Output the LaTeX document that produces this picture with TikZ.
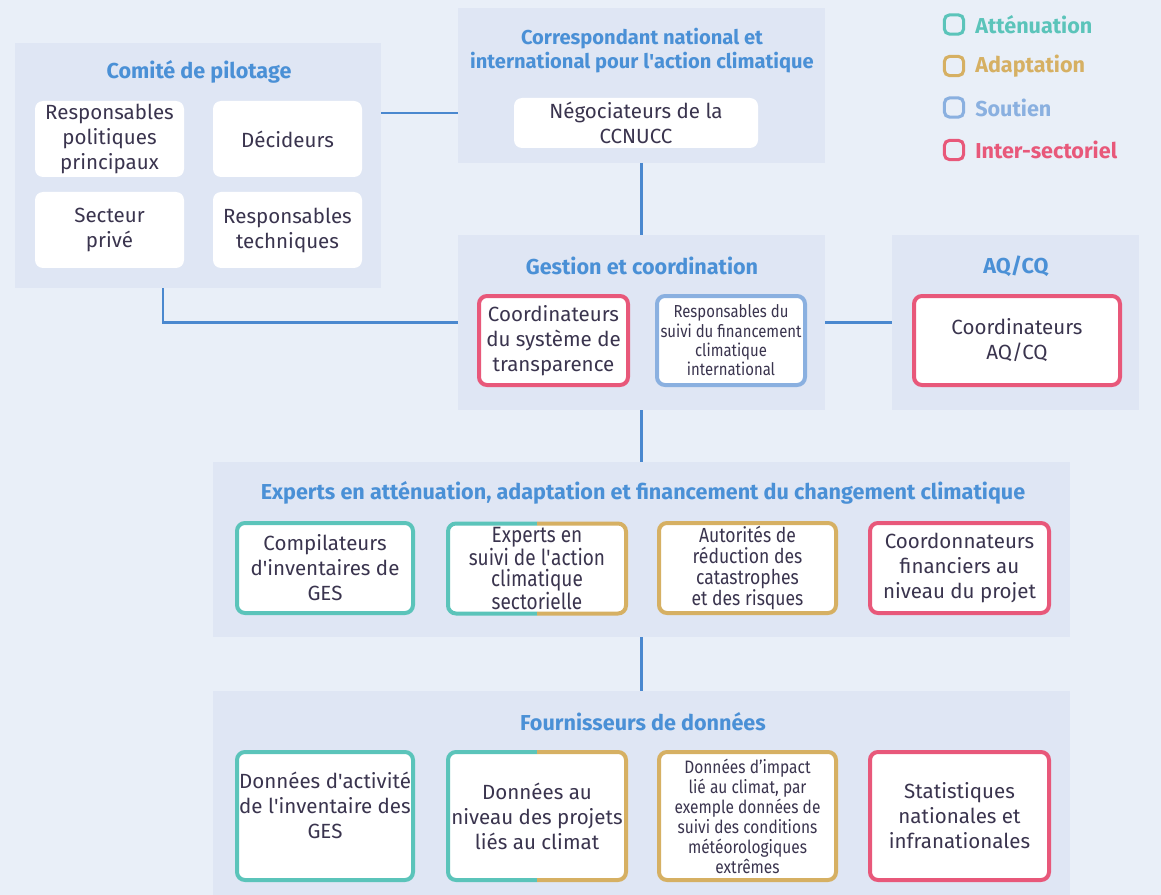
\documentclass[tikz,border=0pt]{standalone}
\usepackage{fontspec}
\setmainfont{Fira Sans}
\newfontfamily\cond{Fira Sans}[FakeStretch=0.86]
\usetikzlibrary{calc}
\definecolor{bg}{RGB}{233,239,248}
\definecolor{panel}{RGB}{223,230,244}
\definecolor{ttl}{RGB}{74,144,214}
\definecolor{conn}{RGB}{74,136,207}
\definecolor{teal}{RGB}{91,196,186}
\definecolor{gold}{RGB}{214,176,99}
\definecolor{sup}{RGB}{138,176,224}
\definecolor{red}{RGB}{232,88,122}
\definecolor{txt}{RGB}{58,52,78}
\newcommand\sq{\textquotesingle}
\tikzset{
  wh/.style 2 args={minimum width=#1*0.75pt, minimum height=#2*0.75pt},
  panelbox/.style={fill=panel, draw=none, inner sep=0pt, outer sep=0pt},
  ttlnode/.style={text=ttl, font=\bfseries\fontsize{16.2}{18}\selectfont, align=center, inner sep=0pt},
  wbox/.style={fill=white, draw=none, rounded corners=6pt, inner sep=0pt, outer sep=0pt, align=center, text=txt, font=\fontsize{15.4}{18.75}\selectfont},
  cbox/.style={wbox, draw=#1, line width=3pt},
  sbox/.style={wbox, font=\cond\fontsize{13}{14.5}\selectfont},
  connline/.style={draw=conn, line width=2.2pt},
  halfl/.style={draw=teal, line width=3pt, rounded corners=6pt},
  halfr/.style={draw=gold, line width=3pt, rounded corners=6pt},
  legsq/.style={draw=#1, line width=2.3pt, rounded corners=4pt, minimum width=14.5pt, minimum height=14.5pt, inner sep=0pt},
  legtxt/.style={text=#1, font=\bfseries\fontsize{16.2}{18}\selectfont, anchor=west, inner sep=0pt},
}
\begin{document}
\begin{tikzpicture}[x=0.75pt, y=-0.75pt]
\useasboundingbox[fill=bg] (0,0) rectangle (1161,895);

% panels
\node[panelbox, wh={366}{245}] (P1) at (198,165.5) {};
\node[panelbox, wh={367}{155}] (P2) at (641.5,85.5) {};
\node[panelbox, wh={367}{175}] (P3) at (641.5,322.5) {};
\node[panelbox, wh={247}{175}] (P4) at (1015.5,322.5) {};
\node[panelbox, wh={857}{175}] (P5) at (641.5,549.5) {};
\node[panelbox, wh={857}{204}] (P6) at (641.5,793) {};

% titles
\node[ttlnode] (T1) at (199,72) {Comité de pilotage};
\node[ttlnode, font=\bfseries\fontsize{15.1}{18}\selectfont] (T2) at (642,51) {Correspondant national et\\international pour l\sq action climatique};
\node[ttlnode] (T3) at (642,266) {Gestion et coordination};
\node[ttlnode] (T4) at (1016,266) {AQ/CQ};
\node[ttlnode] (T5) at (643,493) {Experts en atténuation, adaptation et financement du changement climatique};
\node[ttlnode] (T6) at (643,722) {Fournisseurs de données};

% connectors
\draw[connline] ($(P1.north east)+(0,70)$) coordinate (a1) -- (a1 -| P2.west);
\draw[connline] ($(P1.south)+(-35,0)$) |- (P3.west);
\draw[connline] (P2.south) -- (P3.north);
\draw[connline] (P3.east) -- (P4.west);
\draw[connline] (P3.south) -- (P5.north);
\draw[connline] (P5.south) -- (P6.north);

% comite boxes
\node[wbox, wh={149}{76}] (b11) at (109.5,139) {Responsables\\politiques\\principaux};
\node[wbox, wh={149}{76}] (b12) at (287.5,139) {Décideurs};
\node[wbox, wh={149}{76}] (b21) at (109.5,230) {Secteur\\privé};
\node[wbox, wh={149}{76}] (b22) at (287.5,230) {Responsables\\techniques};

% correspondant
\node[wbox, wh={244}{50}] (negoc) at (636,123) {Négociateurs de la\\CCNUCC};

% gestion
\node[cbox=red, wh={149}{89}] (coordT) at (553.5,340.5) {Coordinateurs\\du système de\\transparence};
\node[sbox, draw=sup, line width=3pt, wh={148}{89}] (respS) at (731,340.5) {Responsables du\\suivi du financement\\climatique\\international};
\node[cbox=red, wh={206}{89}] (aqc) at (1017,340.5) {Coordinateurs\\AQ/CQ};

% experts
\node[cbox=teal, wh={176}{90}] (e1) at (325,568) {Compilateurs\\d\sq inventaires de\\GES};
\node[wbox, wh={178}{90}, font=\cond\fontsize{16.6}{15.7}\selectfont] (e2) at (537,568.5) {Experts en\\suivi de l\sq action\\climatique\\sectorielle};
\draw[halfl] (e2.north) -- (e2.north west) -- (e2.south west) -- (e2.south);
\draw[halfr] (e2.north) -- (e2.north east) -- (e2.south east) -- (e2.south);
\node[sbox, draw=gold, line width=3pt, wh={177}{90}, font=\cond\fontsize{15.3}{15.75}\selectfont] (e3) at (747.5,568) {Autorités de\\réduction des\\catastrophes\\et des risques};
\node[cbox=red, wh={179}{90}] (e4) at (959.5,568) {Coordonnateurs\\financiers au\\niveau du projet};

% fournisseurs
\node[cbox=teal, wh={176}{128}] (d1) at (325,816) {};
\node[text=txt, align=center, inner sep=0pt, font=\fontsize{15.4}{18.75}\selectfont] (d1t) at (325,805) {Données d\sq activité\\de l\sq inventaire des\\GES};
\node[wbox, wh={178}{128}] (d2) at (537,816) {Données au\\niveau des projets\\liés au climat};
\draw[halfl] (d2.north) -- (d2.north west) -- (d2.south west) -- (d2.south);
\draw[halfr] (d2.north) -- (d2.north east) -- (d2.south east) -- (d2.south);
\node[sbox, draw=gold, line width=3pt, wh={177}{128}, font=\cond\fontsize{13.5}{15}\selectfont] (d3) at (747.5,816) {Données d’impact\\lié au climat, par\\exemple données de\\suivi des conditions\\météorologiques\\extrêmes};
\node[cbox=red, wh={179}{128}] (d4) at (959.5,816) {Statistiques\\nationales et\\infranationales};

% legend
\node[legsq=teal] (L1) at (954,24.5) {};
\node[legsq=gold] (L2) at (954,66) {};
\node[legsq=sup] (L3) at (954,107.5) {};
\node[legsq=red] (L4) at (954,150) {};
\node[legtxt=teal] (L1t) at (975,24.5) {Atténuation};
\node[legtxt=gold] (L2t) at (975,66) {Adaptation};
\node[legtxt=sup] (L3t) at (975,107.5) {Soutien};
\node[legtxt=red] (L4t) at (975,150) {Inter-sectoriel};
\end{tikzpicture}
\end{document}
